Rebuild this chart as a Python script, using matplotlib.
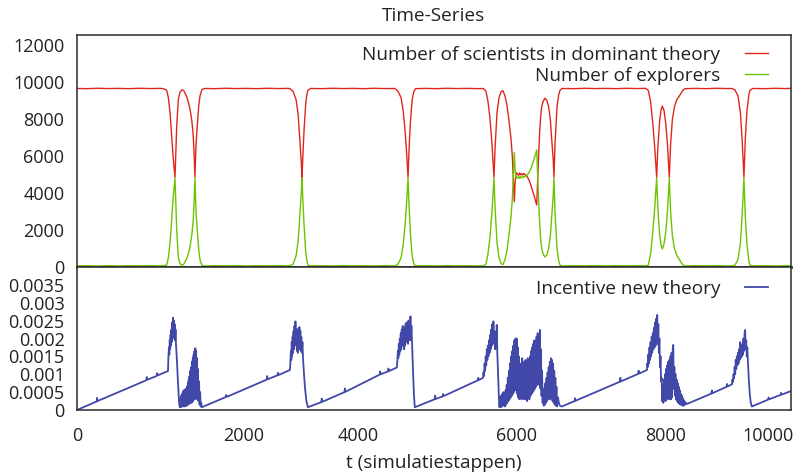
import matplotlib
matplotlib.use('Agg')
import matplotlib.pyplot as plt
from matplotlib.ticker import FixedLocator, FixedFormatter

plt.rcParams['font.family'] = ['Open Sans', 'DejaVu Sans']

# ---------------- data ----------------
t_top = [0, 150, 300, 450, 600, 750, 900, 1050, 1200, 1250, 1298, 1322, 1346, 1370, 1393, 1418,
         1443, 1466, 1490, 1515, 1545, 1570, 1592, 1615, 1635, 1660, 1679, 1693, 1707, 1722, 1737,
         1760, 1780, 1809, 1850, 2000, 2150, 2300, 2450, 2600, 2750, 2900, 3050, 3080, 3126, 3170,
         3200, 3227, 3245, 3256, 3270, 3285, 3310, 3328, 3343, 3380, 3550, 3700, 3850, 4000, 4150,
         4300, 4450, 4600, 4645, 4690, 4720, 4750, 4770, 4790, 4805, 4825, 4850, 4876, 4900, 5050,
         5200, 5350, 5500, 5650, 5800, 5880, 5918, 5947, 5976, 6005, 6034, 6050, 6078, 6107, 6136,
         6164, 6193, 6222, 6250, 6280, 6300, 6315, 6328, 6340, 6355, 6372, 6390, 6405, 6420, 6435,
         6450, 6465, 6480, 6500, 6520, 6540, 6565, 6590, 6615, 6640, 6652, 6665, 6680, 6695, 6710,
         6724, 6745, 6772, 6800, 6825, 6850, 6873, 6890, 6902, 6917, 6946, 6970, 6989, 7020, 7200,
         7350, 7500, 7650, 7800, 7950, 8100, 8230, 8267, 8300, 8330, 8360, 8388, 8405, 8430, 8450,
         8470, 8495, 8520, 8545, 8571, 8590, 8615, 8645, 8678, 8700, 8725, 8750, 8773, 8800, 8950,
         9100, 9250, 9400, 9480, 9521, 9565, 9600, 9625, 9651, 9670, 9695, 9724, 9738, 9780, 9950,
         10100, 10250, 10332]

dominant = [9650, 9640, 9660, 9645, 9655, 9640, 9660, 9645, 9655, 9640, 9560, 9150, 8350, 7100, 5850, 4850,
            7600, 9050, 9450, 9570, 9540, 9350, 9150, 8850, 8550, 7950, 7250, 6300, 4850, 6600, 7450,
            8650, 9250, 9600, 9650, 9640, 9660, 9645, 9655, 9640, 9660, 9645, 9655, 9640, 9500, 9050,
            8250, 6750, 5650, 4850, 6150, 7350, 8850, 9350, 9550, 9650, 9640, 9660, 9645, 9655, 9640,
            9660, 9645, 9650, 9500, 9150, 8450, 7250, 6150, 4850, 6350, 7850, 9050, 9500, 9640, 9655,
            9640, 9660, 9645, 9655, 9640, 9650, 9500, 8950, 8050, 6650, 4850, 6450, 8350, 9150, 9480,
            9530, 9250, 8750, 7950, 6950, 5950, 4650, 3530, 4600, 5100, 5050, 4950, 5080, 4980, 5060,
            4970, 5050, 5000, 4950, 4850, 4700, 4450, 4150, 3850, 3500, 3350, 4600, 6050, 7300, 8150,
            8650, 8950, 9130, 9000, 8650, 7950, 6700, 5900, 4850, 6650, 8650, 9300, 9550, 9650, 9640,
            9660, 9645, 9655, 9640, 9660, 9645, 9655, 9550, 8950, 7850, 6450, 4850, 6450, 7850, 8450,
            8700, 8450, 7750, 6600, 4850, 6650, 7950, 8650, 9030, 9150, 9300, 9450, 9570, 9640, 9655,
            9640, 9660, 9645, 9650, 9570, 9250, 8350, 6850, 4850, 6850, 8450, 9350, 9550, 9650, 9640,
            9660, 9645, 9655]

explorers = [60, 70, 50, 75, 55, 70, 60, 75, 55, 80, 100, 500, 1300, 2540, 3800, 4800,
             2000, 540, 180, 100, 150, 320, 490, 780, 1080, 1700, 2380, 3400, 4800, 3000, 2160,
             1000, 380, 70, 55, 70, 60, 75, 55, 70, 60, 75, 60, 70, 150, 600,
             1400, 2900, 4000, 4800, 3500, 2300, 800, 300, 100, 60, 70, 55, 75, 60, 70,
             55, 75, 60, 150, 500, 1200, 2400, 3500, 4800, 3300, 1800, 600, 150, 60, 70,
             55, 75, 60, 70, 55, 60, 150, 700, 1600, 3000, 4800, 3200, 1300, 500, 180,
             130, 400, 900, 1700, 2700, 3700, 5000, 6200, 5200, 4850, 4800, 4900, 4780, 4880, 4820,
             4900, 4850, 4900, 4920, 5000, 5100, 5300, 5550, 5850, 6150, 6320, 5050, 3600, 2350, 1500,
             1000, 700, 540, 650, 1000, 1700, 2950, 3800, 4800, 3000, 1000, 350, 100, 55, 70,
             60, 75, 55, 70, 60, 75, 60, 100, 700, 1800, 3200, 4800, 3200, 1800, 1200,
             970, 1250, 1900, 3050, 4800, 3000, 1700, 1000, 650, 500, 350, 200, 100, 55, 70,
             60, 75, 55, 60, 100, 400, 1300, 2800, 4800, 2800, 1200, 300, 100, 60, 70,
             55, 70, 60]

t_inc = [0, 285, 290, 296, 1000, 1010, 1020, 1150, 1160, 1170, 1317,
         1322, 1330, 1336, 1342, 1348, 1354, 1360, 1366, 1372, 1378, 1384, 1390, 1396, 1402, 1408,
         1414, 1420, 1426, 1432, 1440, 1450, 1460, 1470, 1480, 1488,
         1496, 1502, 1508, 1514, 1520, 1526, 1532, 1538, 1544, 1550, 1556, 1562, 1568, 1574, 1580,
         1586, 1592, 1598, 1604, 1610, 1616, 1622, 1628, 1634, 1640, 1646, 1652, 1658, 1664, 1670,
         1676, 1682, 1688, 1694, 1700, 1706, 1712, 1718, 1724, 1730, 1736, 1742, 1750, 1758, 1766,
         1774, 1782, 1790, 1798, 1805,
         1809, 2150, 2160, 2170, 2745, 2752, 2760, 2900, 2910, 2920, 3082,
         3088, 3095, 3101, 3107, 3113, 3120, 3126, 3133, 3140, 3147, 3154, 3161, 3168, 3175, 3182,
         3190, 3197, 3204, 3211, 3218, 3225, 3232, 3239, 3246, 3254, 3262, 3272, 3285, 3300, 3320,
         3340,
         3343, 3535, 3542, 3550, 3870, 3877, 3885, 4380, 4387, 4395, 4500, 4507, 4515, 4630,
         4636, 4643, 4650, 4657, 4664, 4671, 4678, 4685, 4692, 4699, 4706, 4713, 4720, 4727, 4734,
         4741, 4748, 4755, 4762, 4769, 4776, 4783, 4790, 4797, 4804, 4811, 4818, 4825, 4832, 4840,
         4850, 4862, 4875, 4888,
         4891, 5175, 5182, 5190, 5290, 5297, 5305, 5800, 5807, 5815, 5875,
         5882, 5890, 5898, 5906, 5914, 5922, 5930, 5938, 5946, 5954, 5962, 5970, 5978, 5986, 5994,
         6002, 6010, 6018, 6026, 6034, 6042, 6050, 6058, 6066, 6074, 6082, 6090, 6098, 6106, 6114,
         6122, 6130, 6138, 6146, 6154, 6162, 6170, 6178, 6186, 6194, 6202, 6210, 6218, 6226, 6234,
         6242, 6250, 6258, 6266, 6274, 6282, 6290, 6298, 6306, 6314, 6322, 6330, 6338, 6346, 6354,
         6362, 6370, 6378, 6386, 6394, 6402, 6410, 6418, 6426, 6434, 6442, 6450, 6458, 6466, 6474,
         6482, 6490, 6498, 6506, 6514, 6522, 6530, 6538, 6546, 6554, 6562, 6570, 6578, 6586, 6594,
         6602, 6610, 6618, 6626, 6634, 6642, 6650, 6658, 6666, 6674, 6682, 6690, 6698, 6706, 6714,
         6722, 6730, 6738, 6746, 6754, 6762, 6770, 6778, 6786, 6794, 6802, 6810, 6818, 6826, 6834,
         6842, 6850, 6858, 6866, 6874, 6882, 6890, 6898, 6906, 6914, 6922, 6930, 6938, 6946, 6960,
         6975, 6990, 7010,
         7018, 7200, 7207, 7215, 7855, 7862, 7870, 8120, 8127, 8135, 8248,
         8252, 8260, 8268, 8276, 8284, 8292, 8300, 8308, 8316, 8324, 8332, 8340, 8348, 8356, 8364,
         8372, 8380, 8388, 8396, 8404, 8412, 8420, 8428, 8436, 8444, 8452, 8460, 8468, 8476, 8484,
         8492, 8500, 8508, 8516, 8524, 8532, 8540, 8548, 8556, 8564, 8572, 8580, 8588, 8596, 8604,
         8612, 8620, 8628, 8636, 8644, 8652, 8660, 8668, 8676, 8684, 8692, 8700, 8708, 8716, 8724,
         8732, 8740, 8748, 8756, 8764, 8772, 8780, 8790, 8800, 8815, 8827,
         9180, 9187, 9195, 9400, 9407, 9415, 9478,
         9484, 9492, 9500, 9508, 9516, 9524, 9532, 9540, 9548, 9556, 9564, 9572, 9580, 9588, 9596,
         9604, 9612, 9620, 9628, 9636, 9644, 9652, 9660, 9668, 9676, 9684, 9692, 9700, 9710, 9722,
         9735, 9750, 9765,
         9767, 10000, 10007, 10015, 10180, 10187, 10195, 10332]

incentive = [0.00000, 0.00024, 0.00034, 0.00025, 0.00083, 0.00092, 0.00085, 0.00095, 0.00103, 0.00097, 0.00109,
             0.00145, 0.00175, 0.00155, 0.00195, 0.00170, 0.00210, 0.00180, 0.00225, 0.00190, 0.00245, 0.00200, 0.00258, 0.00215, 0.00250, 0.00205,
             0.00240, 0.00195, 0.00225, 0.00185, 0.00160, 0.00120, 0.00080, 0.00045, 0.00015, 0.00008,
             0.00030, 0.00008, 0.00040, 0.00010, 0.00045, 0.00012, 0.00050, 0.00010, 0.00055, 0.00015, 0.00050, 0.00010, 0.00058, 0.00015, 0.00060,
             0.00012, 0.00065, 0.00018, 0.00075, 0.00015, 0.00085, 0.00020, 0.00095, 0.00018, 0.00110, 0.00025, 0.00120, 0.00020, 0.00135, 0.00030,
             0.00145, 0.00025, 0.00155, 0.00035, 0.00165, 0.00030, 0.00173, 0.00040, 0.00165, 0.00035, 0.00145, 0.00030, 0.00115, 0.00025, 0.00080,
             0.00015, 0.00050, 0.00010, 0.00020, 0.00008,
             0.00008, 0.00036, 0.00042, 0.00037, 0.00085, 0.00095, 0.00086, 0.00097, 0.00104, 0.00098, 0.00112,
             0.00135, 0.00165, 0.00140, 0.00190, 0.00150, 0.00205, 0.00160, 0.00220, 0.00170, 0.00235, 0.00180, 0.00248, 0.00190, 0.00225, 0.00165,
             0.00215, 0.00160, 0.00228, 0.00170, 0.00232, 0.00175, 0.00222, 0.00165, 0.00205, 0.00160, 0.00190, 0.00140, 0.00100, 0.00060, 0.00025,
             0.00008,
             0.00008, 0.00022, 0.00032, 0.00023, 0.00050, 0.00060, 0.00051, 0.00099, 0.00108, 0.00100, 0.00108, 0.00116, 0.00109, 0.00119,
             0.00140, 0.00165, 0.00145, 0.00185, 0.00155, 0.00200, 0.00165, 0.00215, 0.00170, 0.00225, 0.00180, 0.00235, 0.00185, 0.00220, 0.00170,
             0.00230, 0.00180, 0.00240, 0.00190, 0.00245, 0.00195, 0.00235, 0.00185, 0.00250, 0.00200, 0.00245, 0.00195, 0.00262, 0.00210, 0.00235,
             0.00175, 0.00110, 0.00045, 0.00008,
             0.00008, 0.00030, 0.00040, 0.00031, 0.00038, 0.00045, 0.00039, 0.00083, 0.00090, 0.00084, 0.00090,
             0.00105, 0.00095, 0.00130, 0.00110, 0.00150, 0.00125, 0.00170, 0.00140, 0.00180, 0.00150, 0.00195, 0.00160, 0.00210, 0.00170, 0.00225,
             0.00180, 0.00240, 0.00190, 0.00248, 0.00185, 0.00220, 0.00170, 0.00215, 0.00175, 0.00238, 0.00160, 0.00120, 0.00070, 0.00030, 0.00008,
             0.00035, 0.00008, 0.00040, 0.00010, 0.00045, 0.00012, 0.00050, 0.00015, 0.00045, 0.00010, 0.00055, 0.00015, 0.00070, 0.00020, 0.00090,
             0.00025, 0.00110, 0.00030, 0.00130, 0.00035, 0.00150, 0.00040, 0.00165, 0.00045, 0.00180, 0.00050, 0.00195, 0.00060, 0.00200, 0.00055,
             0.00200, 0.00045, 0.00175, 0.00035, 0.00150, 0.00030, 0.00130, 0.00035, 0.00120, 0.00030, 0.00145, 0.00040, 0.00125, 0.00030, 0.00135,
             0.00035, 0.00140, 0.00030, 0.00120, 0.00025, 0.00145, 0.00035, 0.00130, 0.00030, 0.00150, 0.00040, 0.00165, 0.00045, 0.00175, 0.00050,
             0.00185, 0.00055, 0.00195, 0.00060, 0.00190, 0.00065, 0.00205, 0.00070, 0.00215, 0.00075, 0.00200, 0.00070, 0.00224, 0.00060, 0.00170,
             0.00040, 0.00110, 0.00020, 0.00060, 0.00012, 0.00050, 0.00015, 0.00075, 0.00020, 0.00090, 0.00025, 0.00105, 0.00030, 0.00120, 0.00030,
             0.00135, 0.00035, 0.00145, 0.00030, 0.00140, 0.00025, 0.00130, 0.00020, 0.00110, 0.00015, 0.00090, 0.00012, 0.00065, 0.00010, 0.00035,
             0.00018, 0.00012, 0.00010,
             0.00010, 0.00025, 0.00033, 0.00026, 0.00079, 0.00090, 0.00080, 0.00101, 0.00110, 0.00102, 0.00112,
             0.00130, 0.00120, 0.00155, 0.00130, 0.00175, 0.00140, 0.00190, 0.00150, 0.00205, 0.00160, 0.00215, 0.00170, 0.00230, 0.00175, 0.00245,
             0.00180, 0.00255, 0.00190, 0.00266, 0.00185, 0.00240, 0.00160, 0.00200, 0.00120, 0.00150, 0.00080, 0.00090, 0.00025, 0.00070, 0.00020,
             0.00085, 0.00030, 0.00100, 0.00025, 0.00115, 0.00030, 0.00125, 0.00035, 0.00135, 0.00030, 0.00140, 0.00035, 0.00150, 0.00030, 0.00160,
             0.00035, 0.00170, 0.00182, 0.00060, 0.00120, 0.00040, 0.00100, 0.00030, 0.00085, 0.00025, 0.00075, 0.00020, 0.00065, 0.00018, 0.00055,
             0.00015, 0.00045, 0.00015, 0.00040, 0.00012, 0.00032, 0.00012, 0.00025, 0.00015, 0.00020, 0.00017,
             0.00046, 0.00055, 0.00047, 0.00065, 0.00073, 0.00066, 0.00072,
             0.00085, 0.00078, 0.00100, 0.00088, 0.00120, 0.00100, 0.00140, 0.00115, 0.00150, 0.00125, 0.00160, 0.00130, 0.00170, 0.00140, 0.00190,
             0.00145, 0.00175, 0.00150, 0.00185, 0.00155, 0.00200, 0.00165, 0.00215, 0.00224, 0.00170, 0.00195, 0.00150, 0.00175, 0.00130, 0.00085,
             0.00045, 0.00020, 0.00010,
             0.00010, 0.00029, 0.00035, 0.00030, 0.00042, 0.00048, 0.00043, 0.00053]

x_tick_pos = [0, 2417, 4066, 6353, 8524, 10000]
x_tick_labels = ['0', '2000', '4000', '6000', '8000', '10000']
top_yticks = [0, 2000, 4000, 6000, 8000, 10000, 12000]
bot_yticks = [0, 0.0005, 0.001, 0.0015, 0.002, 0.0025, 0.003, 0.0035]
bot_ylabels = ['0', '0.0005', '0.001', '0.0015', '0.002', '0.0025', '0.003', '0.0035']

RED = '#e0261c'
GREEN = '#6cc400'
BLUE = '#4248a8'
FRAME = '#2b2b2b'
TXT = '#222222'
FS = 13
FS_TXT = 13.7

fig = plt.figure(figsize=(8, 4.75), dpi=100)
ax1 = fig.add_axes([0.09625, 0.4379, 0.8925, 0.4884])
ax2 = fig.add_axes([0.09625, 0.1368, 0.8925, 0.3011])

ax1.plot(t_top, dominant, color=RED, lw=1.0, label='Number of scientists in dominant theory')
ax1.plot(t_top, explorers, color=GREEN, lw=1.0, label='Number of explorers')
ax2.plot(t_inc, incentive, color=BLUE, lw=1.3, label='Incentive new theory')

for ax in (ax1, ax2):
    ax.set_xlim(0, 10332)
    for s in ax.spines.values():
        s.set_color(FRAME)
        s.set_linewidth(1.1)
    ax.tick_params(length=0, labelsize=FS, colors=TXT, pad=9)
ax1.spines['bottom'].set_linewidth(2.0)

ax1.set_ylim(0, 12540)
ax1.set_yticks(top_yticks)
ax1.set_xticks([])
ax2.set_ylim(0, 0.004)
ax2.yaxis.set_major_locator(FixedLocator(bot_yticks))
ax2.yaxis.set_major_formatter(FixedFormatter(bot_ylabels))
ax2.xaxis.set_major_locator(FixedLocator(x_tick_pos))
ax2.xaxis.set_major_formatter(FixedFormatter(x_tick_labels))
ax2.tick_params(axis='x', pad=12)

ax1.set_title('Time-Series', fontsize=FS_TXT, color=TXT, pad=10)
ax2.set_xlabel('t (simulatiestappen)', fontsize=FS_TXT, color=TXT, labelpad=7)

leg_kw = dict(loc='upper right', frameon=False, markerfirst=False, fontsize=FS_TXT,
              handlelength=1.2, handletextpad=1.3, borderpad=0, borderaxespad=0,
              labelspacing=0.15, labelcolor=TXT)
ax1.legend(bbox_to_anchor=(0.9678, 0.953), **leg_kw)
ax2.legend(bbox_to_anchor=(0.9678, 0.91), **leg_kw)

fig.savefig('out.png', dpi=100)
